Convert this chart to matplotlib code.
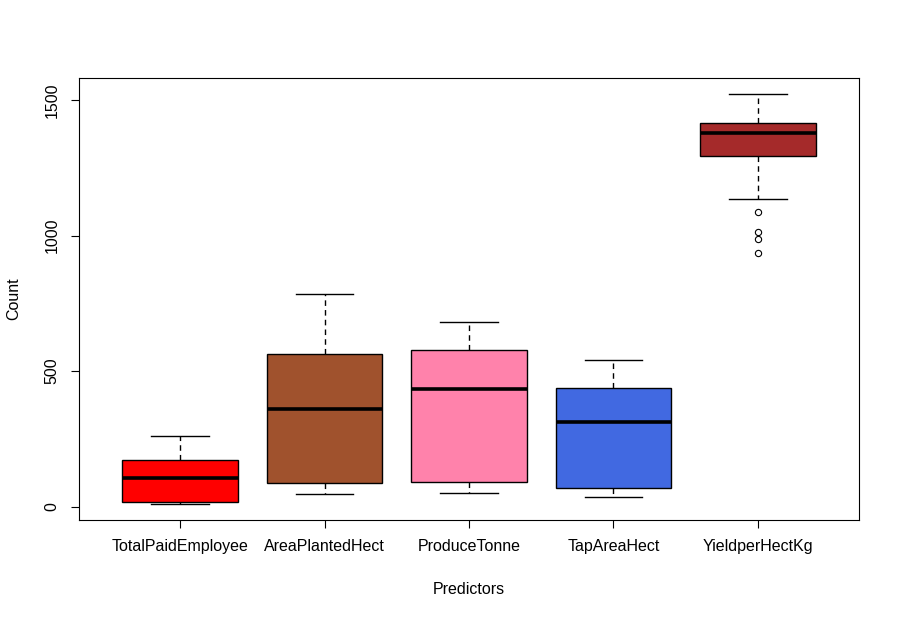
import matplotlib
matplotlib.use("Agg")
import matplotlib.pyplot as plt

categories = ["TotalPaidEmployee", "AreaPlantedHect", "ProduceTonne", "TapAreaHect", "YieldperHectKg"]
whislo = [11, 47, 51, 36, 1135]
q1 = [17, 88, 92, 67, 1295]
med = [107, 359, 433, 314, 1380]
q3 = [173, 563, 578, 437, 1416]
whishi = [262, 786, 682, 541, 1521]
fliers = [[], [], [], [], [1087, 1014, 988, 935]]
colors = ["#FF0000", "#A0522D", "#FF82AB", "#4169E1", "#A52A2A"]
yticks = [0, 500, 1000, 1500]

plt.rcParams['font.family'] = ['Liberation Sans', 'DejaVu Sans']

fig = plt.figure(figsize=(9, 6.17), dpi=100)
ax = fig.add_axes([79/900, 97/617, 780/900, 442/617])

stats = []
for i, c in enumerate(categories):
    stats.append(dict(med=med[i], q1=q1[i], q3=q3[i], whislo=whislo[i], whishi=whishi[i],
                      fliers=fliers[i], label=c))

bp = ax.bxp(stats, positions=range(1, len(categories)+1), widths=0.8, patch_artist=True,
            boxprops=dict(edgecolor='black', linewidth=1.0),
            medianprops=dict(color='black', linewidth=2.6, solid_capstyle='butt'),
            whiskerprops=dict(color='black', linewidth=1.0, linestyle=(0, (4, 3))),
            capprops=dict(color='black', linewidth=1.0),
            flierprops=dict(marker='o', markerfacecolor='none', markeredgecolor='black',
                            markersize=4.5, markeredgewidth=0.8),
            capwidths=0.4)
for patch, col in zip(bp['boxes'], colors):
    patch.set_facecolor(col)

n = len(categories)
ax.set_xlim(0.5 - 0.04*n, n + 0.5 + 0.04*n)
allv = whislo + whishi + [v for f in fliers for v in f]
lo, hi = min(allv), max(allv)
r = hi - lo
ax.set_ylim(lo - 0.04*r, hi + 0.04*r)

ax.set_yticks(yticks)
ax.set_yticklabels([str(v) for v in yticks], rotation=90, va='center')
ax.set_xticks(range(1, n+1))
ax.set_xticklabels(categories)
ax.tick_params(axis='both', direction='out', length=6, width=0.8, labelsize=11.5)
ax.tick_params(axis='y', pad=8)
ax.tick_params(axis='x', pad=8)
for s in ax.spines.values():
    s.set_linewidth(0.8)

ax.set_xlabel("Predictors", fontsize=11.5, labelpad=20)
ax.set_ylabel("Count", fontsize=11.5, labelpad=17)

fig.savefig("out.png", dpi=100)
